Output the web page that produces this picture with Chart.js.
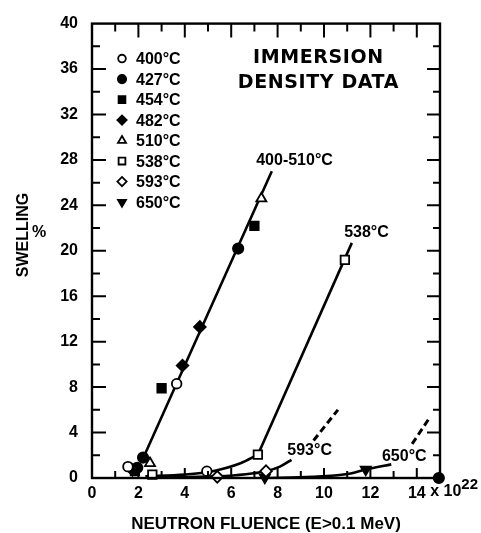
<!DOCTYPE html>
<html>
<head>
<meta charset="utf-8">
<script src="https://cdn.jsdelivr.net/npm/chart.js@4/dist/chart.umd.min.js"></script>
<style>
  html, body { margin: 0; padding: 0; background: #fff; }
  #wrap { width: 481px; height: 533px; }
</style>
</head>
<body>
<div id="wrap"><canvas id="swell" width="481" height="533"></canvas></div>
<script>
// tick labels
const xTicks = [0, 2, 4, 6, 8, 10, 12, 14];
const yTicks = [0, 4, 8, 12, 16, 20, 24, 28, 32, 36, 40];

// legend names
const legendLabels = ['400°C', '427°C', '454°C', '482°C', '510°C', '538°C', '593°C', '650°C'];

// measured points (fluence 10^22, swelling %)
const s400 = [{x: 1.55, y: 1.0}, {x: 3.65, y: 8.3}, {x: 4.95, y: 0.6}];
const s427 = [{x: 1.95, y: 0.9}, {x: 2.2, y: 1.8}, {x: 6.3, y: 20.2}, {x: 14.95, y: 0}];
const s454 = [{x: 1.85, y: 0.6}, {x: 3.0, y: 7.9}, {x: 7.0, y: 22.2}];
const s482 = [{x: 1.75, y: 0.7}, {x: 3.9, y: 9.9}, {x: 4.65, y: 13.3}];
const s510 = [{x: 2.5, y: 1.3}, {x: 7.3, y: 24.6}];
const s538 = [{x: 2.6, y: 0.3}, {x: 7.15, y: 2.05}, {x: 10.9, y: 19.2}];
const s593 = [{x: 5.4, y: 0.1}, {x: 7.5, y: 0.6}];
const s650 = [{x: 7.45, y: 0.05}, {x: 11.8, y: 0.75}];

// drawn trend lines
const fit400510 = [{x: 2.15, y: 1.5}, {x: 7.75, y: 27.0}];
const curve538 = [{x: 2.3, y: 0.15}, {x: 4.0, y: 0.3}, {x: 5.2, y: 0.6}, {x: 6.4, y: 1.3}, {x: 7.15, y: 2.05}];
const fit538 = [{x: 7.15, y: 2.05}, {x: 11.2, y: 20.7}];
const curve593 = [{x: 2.6, y: 0.05}, {x: 5.4, y: 0.15}, {x: 7.5, y: 0.6}, {x: 8.1, y: 1.0}, {x: 8.6, y: 1.6}];
const dash593 = [{x: 9.55, y: 3.3}, {x: 10.6, y: 6.0}];
const curve650 = [{x: 7.4, y: 0.0}, {x: 9.5, y: 0.1}, {x: 11.0, y: 0.35}, {x: 11.8, y: 0.75}, {x: 12.9, y: 1.2}];
const dash650 = [{x: 13.8, y: 3.0}, {x: 14.55, y: 5.3}];

// curve labels, placed in data coordinates
const curveLabels = [
  {text: '400-510°C', x: 8.73, y: 27.9},
  {text: '538°C', x: 11.83, y: 21.6},
  {text: '593°C', x: 9.38, y: 2.45},
  {text: '650°C', x: 13.46, y: 1.85}
];

const FAMILY = '"Liberation Sans", Arial, sans-serif';
const BOLD = 'bold 16px ' + FAMILY;

function markers(label, data, style, filled, radius, rotation) {
  return {
    type: 'scatter',
    label: label,
    data: data,
    showLine: false,
    pointStyle: style,
    pointRadius: radius,
    pointRotation: rotation || 0,
    pointBackgroundColor: filled ? '#000' : '#fff',
    pointBorderColor: '#000',
    pointBorderWidth: 1.8,
    clip: false,
    order: 0
  };
}

function trend(data, dashed, curved) {
  return {
    type: 'line',
    data: data,
    borderColor: '#000',
    borderWidth: dashed ? 3 : 2.6,
    borderDash: dashed ? [7, 4] : [],
    pointRadius: 0,
    fill: false,
    cubicInterpolationMode: curved ? 'monotone' : 'default',
    order: 1
  };
}

const pointSets = [
  markers(legendLabels[0], s400, 'circle', false, 4.8),
  markers(legendLabels[1], s427, 'circle', true, 5.2),
  markers(legendLabels[2], s454, 'rect', true, 6),
  markers(legendLabels[3], s482, 'rectRot', true, 5.8),
  markers(legendLabels[4], s510, 'triangle', false, 5.8),
  markers(legendLabels[5], s538, 'rect', false, 6),
  markers(legendLabels[6], s593, 'rectRot', false, 5.8),
  markers(legendLabels[7], s650, 'triangle', true, 5.8, 180)
];

const lineSets = [
  trend(fit400510, false, false),
  trend(curve538, false, true),
  trend(fit538, false, false),
  trend(curve593, false, true),
  trend(dash593, true, false),
  trend(curve650, false, true),
  trend(dash650, true, false)
];

// frame, inward ticks, texts
const decor = {
  id: 'decor',
  afterDatasetsDraw(chart) {
    const ctx = chart.ctx;
    const a = chart.chartArea;
    const xs = chart.scales.x, ys = chart.scales.y;
    ctx.save();
    ctx.strokeStyle = '#000';
    ctx.lineWidth = 2.4;
    ctx.strokeRect(a.left, a.top, a.right - a.left, a.bottom - a.top);

    ctx.lineWidth = 2;
    ctx.beginPath();
    for (let v = 1; v < 15; v++) {
      const px = xs.getPixelForValue(v);
      const major = v % 2 === 0;
      ctx.moveTo(px, a.bottom); ctx.lineTo(px, a.bottom - (major ? 10 : 7));
      ctx.moveTo(px, a.top); ctx.lineTo(px, a.top + (major ? 14 : 8));
    }
    for (let v = 2; v < 40; v += 2) {
      const py = ys.getPixelForValue(v);
      const major = v % 4 === 0;
      ctx.moveTo(a.left, py); ctx.lineTo(a.left + (major ? 14 : 8), py);
      ctx.moveTo(a.right, py); ctx.lineTo(a.right - (major ? 13 : 7), py);
    }
    ctx.stroke();

    ctx.fillStyle = '#000';
    ctx.textBaseline = 'middle';

    // title
    ctx.font = 'bold 19px "DejaVu Sans", sans-serif';
    ctx.textAlign = 'center';
    try { ctx.letterSpacing = '0.6px'; } catch (e) {}
    ctx.fillText('IMMERSION', xs.getPixelForValue(9.76), ys.getPixelForValue(37.0));
    ctx.fillText('DENSITY DATA', xs.getPixelForValue(9.76), ys.getPixelForValue(34.8));
    try { ctx.letterSpacing = '0px'; } catch (e) {}

    // curve labels
    ctx.font = BOLD;
    curveLabels.forEach(l => {
      ctx.fillText(l.text, xs.getPixelForValue(l.x), ys.getPixelForValue(l.y));
    });

    // legend
    const lx = a.left + 30, ly = a.top + 35, step = 20.5;
    pointSets.forEach((ds, i) => {
      const y = ly + i * step;
      ctx.fillStyle = ds.pointBackgroundColor;
      ctx.strokeStyle = '#000';
      ctx.lineWidth = 1.8;
      Chart.helpers.drawPoint(ctx, {
        pointStyle: ds.pointStyle,
        radius: ds.pointRadius * 0.8,
        rotation: ds.pointRotation,
        borderWidth: 1.8
      }, lx, y);
      ctx.fillStyle = '#000';
      ctx.textAlign = 'left';
      ctx.font = BOLD;
      ctx.fillText(ds.label, lx + 14, y + 1);
    });

    // "x 10^22" after last x tick
    ctx.font = BOLD;
    ctx.textAlign = 'left';
    const p14 = xs.getPixelForValue(14);
    const w14 = ctx.measureText('14').width;
    const ty = a.bottom + 14;
    let tx = p14 + w14 / 2;
    ctx.fillText(' x 10', tx, ty);
    tx += ctx.measureText(' x 10').width;
    ctx.font = 'bold 15px ' + FAMILY;
    ctx.fillText('22', tx, ty - 7);

    // y title
    ctx.font = 'bold 16px ' + FAMILY;
    ctx.textAlign = 'center';
    ctx.save();
    ctx.translate(24, 235);
    ctx.rotate(-Math.PI / 2);
    ctx.fillText('SWELLING', 0, 0);
    ctx.restore();
    ctx.fillText('%', 39, 233);
    ctx.restore();
  }
};

new Chart(document.getElementById('swell').getContext('2d'), {
  data: { datasets: pointSets.concat(lineSets) },
  options: {
    responsive: false,
    animation: false,
    layout: { padding: { top: 18, right: 41, left: 0, bottom: 0 } },
    plugins: { legend: { display: false }, tooltip: { enabled: false } },
    scales: {
      x: {
        type: 'linear', min: 0, max: 15,
        afterBuildTicks: s => { s.ticks = xTicks.map(v => ({value: v})); },
        afterFit: s => { s.height = 55; },
        grid: { display: false, drawTicks: false },
        border: { display: false },
        ticks: { color: '#000', padding: 6, maxRotation: 0, font: { family: FAMILY, weight: 'bold', size: 16 } },
        title: {
          display: true, text: 'NEUTRON FLUENCE (E>0.1 MeV)', color: '#000',
          padding: { top: 0, bottom: 0 },
          font: { family: FAMILY, weight: 'bold', size: 17, lineHeight: 1 }
        }
      },
      y: {
        type: 'linear', min: 0, max: 40,
        afterBuildTicks: s => { s.ticks = yTicks.map(v => ({value: v})); },
        afterFit: s => { s.width = 92; },
        grid: { display: false, drawTicks: false },
        border: { display: false },
        ticks: { color: '#000', padding: 14, font: { family: FAMILY, weight: 'bold', size: 16 } }
      }
    }
  },
  plugins: [decor]
});
</script>
</body>
</html>
